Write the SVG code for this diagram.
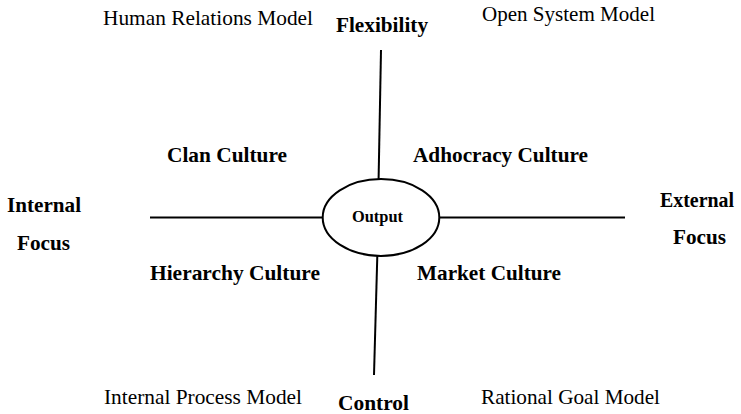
<svg xmlns="http://www.w3.org/2000/svg" width="741" height="414" viewBox="0 0 741 414">
<style>
text{font-family:"Liberation Serif","DejaVu Serif","Times New Roman",serif;fill:#000}
.m{font-size:21px;font-weight:normal}
.b{font-size:21px;font-weight:bold}
.o{font-size:16px;font-weight:bold}
.ln{stroke:#000;stroke-width:2;fill:none}
</style>
<rect width="741" height="414" fill="#fff"/>
<g id="connectors">
<line class="ln" x1="381" y1="50" x2="378.6" y2="179"/>
<line class="ln" x1="377.3" y1="256" x2="374" y2="375"/>
<line class="ln" x1="150" y1="217.5" x2="322.7" y2="217.5"/>
<line class="ln" x1="439.3" y1="217.5" x2="625" y2="217.5"/>
</g>
<g id="output">
<ellipse class="ln" cx="381" cy="217.5" rx="58.3" ry="38.4"/>
<text class="o" x="352" y="222" textLength="51" lengthAdjust="spacingAndGlyphs">Output</text>
</g>
<g id="human-relations-model"><text class="m" x="103" y="25" textLength="210" lengthAdjust="spacingAndGlyphs">Human Relations Model</text></g>
<g id="flexibility"><text class="b" x="336" y="32" textLength="92" lengthAdjust="spacingAndGlyphs">Flexibility</text></g>
<g id="open-system-model"><text class="m" x="482" y="21" textLength="173" lengthAdjust="spacingAndGlyphs">Open System Model</text></g>
<g id="clan-culture"><text class="b" x="167" y="162" textLength="120" lengthAdjust="spacingAndGlyphs">Clan Culture</text></g>
<g id="adhocracy-culture"><text class="b" x="413" y="162" textLength="175" lengthAdjust="spacingAndGlyphs">Adhocracy Culture</text></g>
<g id="internal-focus"><text class="b" x="7" y="212" textLength="74" lengthAdjust="spacingAndGlyphs">Internal</text><text class="b" x="17" y="250" textLength="53" lengthAdjust="spacingAndGlyphs">Focus</text></g>
<g id="external-focus"><text class="b" x="660" y="207" textLength="74" lengthAdjust="spacingAndGlyphs">External</text><text class="b" x="673" y="244" textLength="53" lengthAdjust="spacingAndGlyphs">Focus</text></g>
<g id="hierarchy-culture"><text class="b" x="150" y="280" textLength="170" lengthAdjust="spacingAndGlyphs">Hierarchy Culture</text></g>
<g id="market-culture"><text class="b" x="417" y="280" textLength="144" lengthAdjust="spacingAndGlyphs">Market Culture</text></g>
<g id="internal-process-model"><text class="m" x="104" y="404" textLength="198" lengthAdjust="spacingAndGlyphs">Internal Process Model</text></g>
<g id="control"><text class="b" x="338" y="410" textLength="71" lengthAdjust="spacingAndGlyphs">Control</text></g>
<g id="rational-goal-model"><text class="m" x="481" y="404" textLength="179" lengthAdjust="spacingAndGlyphs">Rational Goal Model</text></g>
</svg>
